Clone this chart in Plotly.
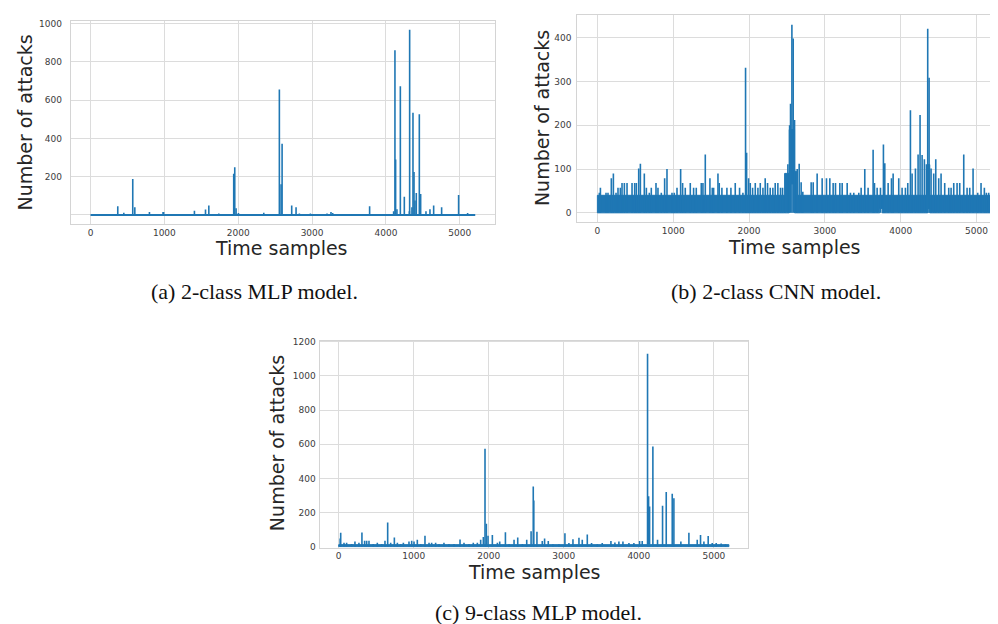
import plotly.graph_objects as go

# ---------------- data ----------------
N_LAST = 5209  # last time sample index

x_ticks = [0, 1000, 2000, 3000, 4000, 5000]

# (a) 2-class MLP model: all samples are 0 except these
a_idx = [369, 451, 572, 600, 798, 983, 990, 1407, 1557, 1602,
         1737, 1939, 1953, 1971, 2003, 2346, 2557, 2580, 2594, 2724,
         2783, 2828, 2977, 3202, 3256, 3279, 3518, 3779, 4104, 4122,
         4131, 4149, 4195, 4249, 4317, 4321, 4352, 4366, 4380, 4393,
         4411, 4452, 4470, 4542, 4596, 4646, 4754, 4984, 5106]
a_val = [45, 12, 188, 40, 15, 15, 15, 22, 28, 50,
         8, 215, 250, 35, 10, 12, 656, 160, 372, 50,
         40, 8, 8, 8, 15, 10, 5, 45, 20, 862,
         290, 30, 673, 95, 20, 969, 40, 535, 225, 75,
         115, 527, 110, 20, 30, 50, 40, 105, 10]
a_yticks = [0, 200, 400, 600, 800, 1000]
a_yticktext = ["", "200", "400", "600", "800", "1000"]

# (b) 2-class CNN model: dense band segments (start, end, low, high) + peaks
b_band_x0 = [0, 2470, 2530, 2600, 2625, 3724, 3755, 4356, 4383]
b_band_x1 = [2470, 2530, 2600, 2625, 3724, 3755, 4356, 4383, N_LAST]
b_band_lo = [0, 0, 66, 0, 0, 10, 0, 10, 0]
b_band_hi = [40, 90, 190, 95, 40, 40, 40, 110, 40]
b_idx = [26, 40, 114, 140, 184, 211, 246, 272, 303, 325,
         356, 391, 457, 492, 514, 545, 567, 619, 646, 685,
         711, 773, 799, 843, 887, 918, 984, 1014, 1050, 1098,
         1124, 1159, 1225, 1269, 1304, 1370, 1392, 1423, 1484, 1515,
         1533, 1590, 1607, 1642, 1708, 1761, 1818, 1875, 1919, 1954,
         1968, 1994, 2016, 2047, 2082, 2117, 2148, 2183, 2213, 2244,
         2279, 2314, 2345, 2380, 2415, 2442, 2477, 2512, 2535, 2547,
         2565, 2582, 2600, 2635, 2661, 2687, 2709, 2819, 2846, 2898,
         2964, 3021, 3065, 3109, 3140, 3197, 3228, 3294, 3337, 3381,
         3447, 3478, 3526, 3570, 3636, 3654, 3689, 3733, 3772, 3790,
         3834, 3878, 3900, 3974, 4018, 4062, 4093, 4128, 4150, 4194,
         4229, 4255, 4282, 4312, 4339, 4356, 4374, 4400, 4435, 4462,
         4501, 4532, 4580, 4633, 4664, 4699, 4743, 4778, 4831, 4875,
         4910, 4954, 5015, 5059, 5103, 5129, 5160]
b_val = [46, 57, 46, 46, 79, 90, 46, 57, 57, 68,
         68, 68, 68, 68, 68, 101, 112, 90, 57, 46,
         57, 68, 57, 46, 79, 100, 46, 46, 57, 100,
         68, 57, 68, 57, 57, 68, 68, 133, 79, 57,
         57, 90, 68, 57, 57, 57, 68, 57, 46, 331,
         137, 79, 68, 57, 68, 57, 68, 57, 79, 68,
         57, 57, 68, 68, 57, 57, 90, 111, 200, 249,
         429, 398, 212, 100, 112, 70, 48, 70, 70, 90,
         79, 79, 79, 68, 68, 68, 68, 68, 46, 46,
         46, 57, 100, 57, 144, 68, 57, 57, 156, 113,
         68, 79, 90, 79, 57, 57, 68, 234, 90, 101,
         133, 223, 132, 122, 111, 420, 308, 101, 90, 122,
         79, 90, 68, 57, 57, 68, 68, 68, 133, 57,
         57, 101, 46, 68, 57, 46, 46]
b_yticks = [0, 100, 200, 300, 400]

# (c) 9-class MLP model: low band + peaks
c_band_x0 = [0]
c_band_x1 = [5200]
c_band_lo = [0]
c_band_hi = [12]
c_idx = [20, 27, 71, 106, 173, 217, 270, 310, 346, 373,
         404, 461, 515, 573, 617, 653, 693, 742, 782, 826,
         862, 937, 973, 1004, 1048, 1093, 1150, 1204, 1239, 1292,
         1337, 1403, 1470, 1537, 1617, 1670, 1737, 1794, 1848, 1892,
         1928, 1950, 1968, 1990, 2048, 2115, 2146, 2222, 2271, 2337,
         2386, 2448, 2506, 2564, 2593, 2600, 2642, 2713, 2744, 2793,
         2855, 2935, 3015, 3068, 3122, 3202, 3246, 3313, 3370, 3446,
         3512, 3628, 3681, 3734, 3788, 3868, 3934, 4010, 4045, 4116,
         4130, 4143, 4187, 4249, 4316, 4365, 4445, 4467, 4560, 4667,
         4778, 4822, 4867, 4924, 4978, 5031, 5097, 5155]
c_val = [48, 82, 23, 23, 16, 30, 23, 83, 35, 35,
         35, 16, 23, 16, 35, 141, 23, 54, 23, 16,
         23, 30, 35, 30, 40, 16, 64, 23, 23, 23,
         16, 23, 16, 16, 42, 23, 16, 23, 23, 40,
         57, 574, 135, 64, 68, 23, 30, 85, 16, 40,
         54, 16, 40, 90, 353, 270, 87, 33, 48, 33,
         15, 15, 78, 22, 43, 53, 40, 72, 22, 15,
         22, 33, 25, 30, 30, 22, 22, 33, 33, 1130,
         295, 235, 586, 40, 239, 320, 310, 283, 30, 82,
         40, 68, 30, 62, 22, 22, 18, 15]
c_yticks = [0, 200, 400, 600, 800, 1000, 1200]

assert len(a_idx) == len(a_val)
assert len(b_idx) == len(b_val)
assert len(c_idx) == len(c_val)

# ---------------- styling ----------------
BLUE = "#1f77b4"
GRID = "#dcdcdc"
FRAME = "#d4d4d4"
TICKC = "#3c3c3c"
TITLEC = "#262626"
SANS = "DejaVu Sans"
SERIF = "Liberation Serif"


def spike_xy(idx, val, base=0):
    xs, ys = [], []
    for i, v in zip(idx, val):
        xs += [i, i, None]
        ys += [base, v, None]
    return xs, ys


def band_xy(x0s, x1s, los, his):
    xs, ys = [], []
    for x0, x1, lo, hi in zip(x0s, x1s, los, his):
        xs += [x0, x0, x1, x1, x0, None]
        ys += [lo, hi, hi, lo, lo, None]
    return xs, ys


fig = go.Figure()

# (a)
fig.add_trace(go.Scatter(x=[0, N_LAST], y=[0, 0], mode="lines",
                         line=dict(color=BLUE, width=2), xaxis="x", yaxis="y",
                         showlegend=False, hoverinfo="skip"))
sx, sy = spike_xy(a_idx, a_val)
fig.add_trace(go.Scatter(x=sx, y=sy, mode="lines", line=dict(color=BLUE, width=1.6),
                         xaxis="x", yaxis="y", showlegend=False))

# (b)
bx, by = band_xy(b_band_x0, b_band_x1, b_band_lo, b_band_hi)
fig.add_trace(go.Scatter(x=bx, y=by, mode="lines", fill="toself", fillcolor=BLUE,
                         line=dict(color=BLUE, width=1), xaxis="x2", yaxis="y2",
                         showlegend=False, hoverinfo="skip"))
sx, sy = spike_xy(b_idx, b_val)
fig.add_trace(go.Scatter(x=sx, y=sy, mode="lines", line=dict(color=BLUE, width=1.6),
                         xaxis="x2", yaxis="y2", showlegend=False))

# (c)
cx, cy = band_xy(c_band_x0, c_band_x1, c_band_lo, c_band_hi)
fig.add_trace(go.Scatter(x=cx, y=cy, mode="lines", fill="toself", fillcolor=BLUE,
                         line=dict(color=BLUE, width=1), xaxis="x3", yaxis="y3",
                         showlegend=False, hoverinfo="skip"))
sx, sy = spike_xy(c_idx, c_val)
fig.add_trace(go.Scatter(x=sx, y=sy, mode="lines", line=dict(color=BLUE, width=1.6),
                         xaxis="x3", yaxis="y3", showlegend=False))


def xaxis(domain, rng, anchor):
    return dict(domain=domain, range=rng, anchor=anchor, tickvals=x_ticks,
                showgrid=True, gridcolor=GRID, gridwidth=1, zeroline=False,
                showline=True, mirror=True, linecolor=FRAME, linewidth=1.3,
                ticks="",
                tickfont=dict(family=SANS, size=9, color=TICKC))


def yaxis(domain, rng, anchor, tickvals, ticklen, ticktext=None):
    d = dict(domain=domain, range=rng, anchor=anchor, tickvals=tickvals,
             showgrid=True, gridcolor=GRID, gridwidth=1, zeroline=False,
             showline=True, mirror=True, linecolor=FRAME, linewidth=1.3,
             ticks="outside", ticklen=ticklen, tickcolor="rgba(0,0,0,0)",
             tickfont=dict(family=SANS, size=9, color=TICKC))
    if ticktext is not None:
        d["ticktext"] = ticktext
    return d


W, H = 998, 624


def px(x):
    return x / W


def py(y):
    return 1 - y / H


fig.update_layout(
    width=W, height=H, margin=dict(l=0, r=0, t=0, b=0),
    paper_bgcolor="white", plot_bgcolor="white", showlegend=False,
    xaxis=xaxis([px(63), px(487)], [-265, 5470], "y"),
    yaxis=yaxis([py(215), py(9)], [-48.5, 1015], "x", a_yticks, 6, a_yticktext),
    xaxis2=xaxis([px(570), px(998)], [-263, 5375], "y2"),
    yaxis2=yaxis([py(213), py(3)], [-21.5, 451.5], "x2", b_yticks, 3),
    xaxis3=xaxis([px(312), px(741)], [-253, 5458], "y3"),
    yaxis3=yaxis([py(542.5), py(333)], [-5, 1206], "x3", c_yticks, 1),
)

ann = []


def title(x, y, text, angle=0, font=SANS, size=19, color=TITLEC):
    ann.append(dict(x=px(x), y=py(y), xref="paper", yref="paper", text=text,
                    showarrow=False, textangle=angle, xanchor="center",
                    yanchor="middle", font=dict(family=font, size=size, color=color)))


title(17, 112, "Number of attacks", -90)
title(274, 239, "Time samples")
title(534, 107, "Number of attacks", -90)
title(787, 238, "Time samples")
title(270, 437, "Number of attacks", -90)
title(527, 567, "Time samples")
title(247, 283, "(a) 2-class MLP model.", font=SERIF, size=22, color="#111111")
title(769, 283, "(b) 2-class CNN model.", font=SERIF, size=22, color="#111111")
title(531, 608, "(c) 9-class MLP model.", font=SERIF, size=22, color="#111111")
fig.update_layout(annotations=ann)

fig.write_html("out.html")
